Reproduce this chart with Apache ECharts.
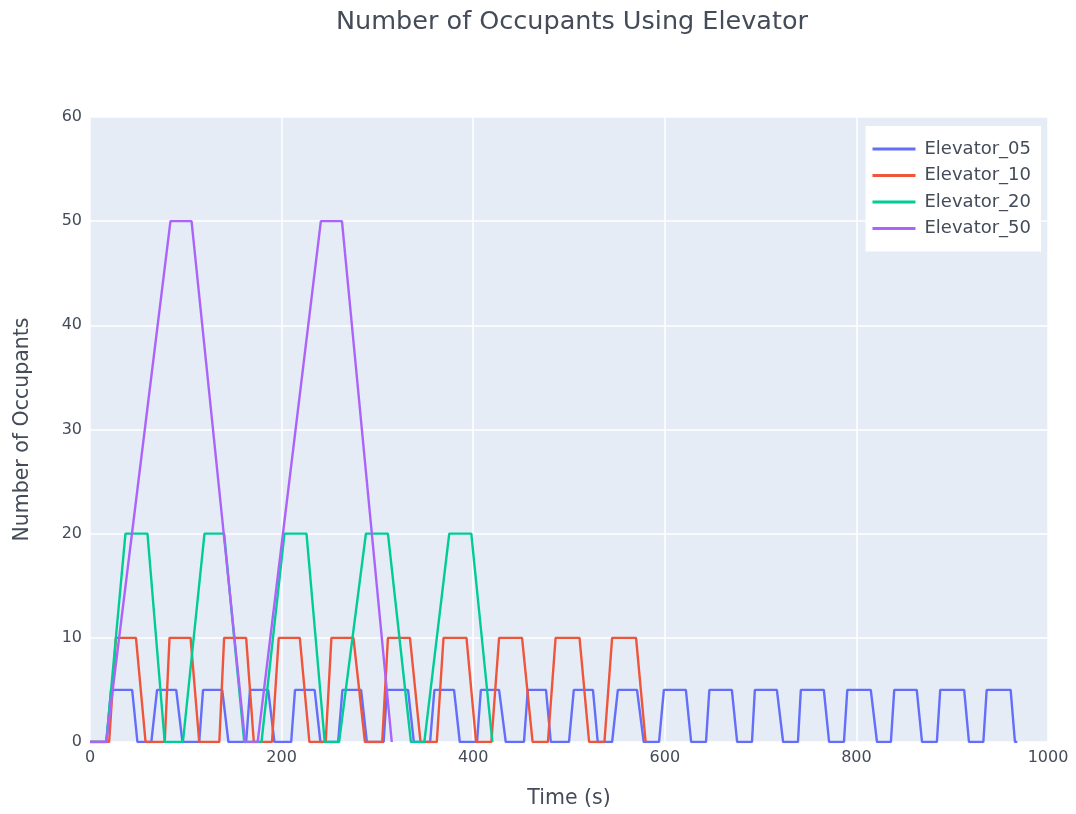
<!DOCTYPE html>
<html>
<head>
<meta charset="utf-8">
<script src="https://cdn.jsdelivr.net/npm/echarts@6/dist/echarts.min.js"></script>
<style>
html,body{margin:0;padding:0;background:#fff;overflow:hidden;}
#chart{width:1076px;height:814px;}
</style>
</head>
<body>
<div id="chart"></div>
<script>
// Data: [time (s), occupants]
var seriesNames = ['Elevator_05', 'Elevator_10', 'Elevator_20', 'Elevator_50'];
var seriesColors = ['#636efa', '#ef553b', '#00cc96', '#ab63fa'];
var xTicks = [0, 200, 400, 600, 800, 1000];
var yTicks = [0, 10, 20, 30, 40, 50, 60];

var elevator05 = [
  [0,0],
  [17,0],[22,5],[44,5],[49.5,0],
  [64,0],[70,5],[90,5],[96.5,0],
  [114,0],[118,5],[138,5],[144.5,0],
  [163,0],[167,5],[186,5],[192.5,0],
  [210,0],[214,5],[234.5,5],[240.5,0],
  [259,0],[263.5,5],[283,5],[289,0],
  [306.5,0],[310,5],[332,5],[338,0],
  [355,0],[359.5,5],[380,5],[386,0],
  [404,0],[408,5],[427,5],[434,0],
  [453,0],[457,5],[476,5],[481,0],
  [500,0],[505,5],[525,5],[530,0],
  [545,0],[551,5],[571,5],[578,0],
  [594,0],[599,5],[622,5],[627.5,0],
  [643,0],[646.5,5],[670,5],[675.5,0],
  [691,0],[694,5],[717,5],[723.5,0],
  [739,0],[742,5],[766,5],[771.5,0],
  [787,0],[790.5,5],[815,5],[821.5,0],
  [836,0],[839.5,5],[863,5],[868.5,0],
  [884,0],[887.5,5],[912.5,5],[917.5,0],
  [932.5,0],[936,5],[961,5],[965.5,0],
  [968,0]
];

var elevator10 = [
  [0,0],
  [20,0],[27,10],[48,10],[58,0],
  [78,0],[83,10],[105,10],[114,0],
  [135,0],[140,10],[163,10],[171,0],
  [190,0],[197,10],[219,10],[229,0],
  [246,0],[252,10],[275,10],[287,0],
  [305,0],[311,10],[334,10],[345,0],
  [362,0],[369,10],[393,10],[403,0],
  [419,0],[427,10],[451,10],[462,0],
  [478,0],[486,10],[511,10],[521,0],
  [537,0],[545,10],[570,10],[580,0]
];

var elevator20 = [
  [0,0],
  [17,0],[37,20],[60,20],[78,0],
  [97,0],[119.5,20],[140,20],[161,0],
  [179,0],[203,20],[226,20],[245,0],
  [260,0],[288,20],[311,20],[335,0],
  [349,0],[375,20],[398,20],[420,0]
];

var elevator50 = [
  [0,0],
  [17,0],[84,50],[106,50],[162,0],
  [175,0],[241,50],[263,50],[315,0]
];

var allData = [elevator05, elevator10, elevator20, elevator50];

var FONT = 'DejaVu Sans';
var TXT = '#444b59';

var chart = echarts.init(document.getElementById('chart'), null, {renderer: 'canvas'});
var series = seriesNames.map(function (name, i) {
  return {
    name: name,
    type: 'line',
    data: allData[i],
    showSymbol: false,
    symbol: 'none',
    lineStyle: {width: 2.4, color: seriesColors[i]},
    itemStyle: {color: seriesColors[i]},
    animation: false
  };
});

chart.setOption({
  animation: false,
  backgroundColor: '#ffffff',
  title: {
    text: 'Number of Occupants Using Elevator',
    left: 331,
    top: 4,
    textStyle: {fontFamily: FONT, fontSize: 25.5, fontWeight: 'normal', color: TXT}
  },
  legend: {
    data: seriesNames,
    orient: 'vertical',
    right: 35,
    top: 126,
    backgroundColor: '#ffffff',
    padding: [14, 10, 14, 7],
    itemWidth: 43,
    itemHeight: 3,
    itemGap: 8.5,
    icon: 'rect',
    textStyle: {fontFamily: FONT, fontSize: 18, color: TXT, padding: [0, 0, 0, 4]}
  },
  grid: {
    left: 90, right: 28, top: 117, bottom: 62,
    show: true, backgroundColor: '#e5ecf6', borderWidth: 0
  },
  xAxis: {
    type: 'value',
    min: xTicks[0], max: xTicks[xTicks.length - 1], interval: 200,
    name: 'Time (s)', nameLocation: 'middle', nameGap: 46,
    nameTextStyle: {fontFamily: FONT, fontSize: 20.5, color: TXT},
    axisLine: {show: false}, axisTick: {show: false},
    axisLabel: {fontFamily: FONT, fontSize: 16, color: TXT, margin: 8,
      formatter: function (v) { return String(v); }},
    splitLine: {show: true, lineStyle: {color: '#ffffff', width: 1.5}}
  },
  yAxis: {
    type: 'value',
    min: yTicks[0], max: yTicks[yTicks.length - 1], interval: 10,
    name: 'Number of Occupants', nameLocation: 'middle', nameGap: 57,
    nameTextStyle: {fontFamily: FONT, fontSize: 20.5, color: TXT},
    axisLine: {show: false}, axisTick: {show: false},
    axisLabel: {fontFamily: FONT, fontSize: 16, color: TXT, margin: 8,
      formatter: function (v) { return String(v); }},
    splitLine: {show: true, lineStyle: {color: '#ffffff', width: 1.5}}
  },
  series: series
});
</script>
</body>
</html>
